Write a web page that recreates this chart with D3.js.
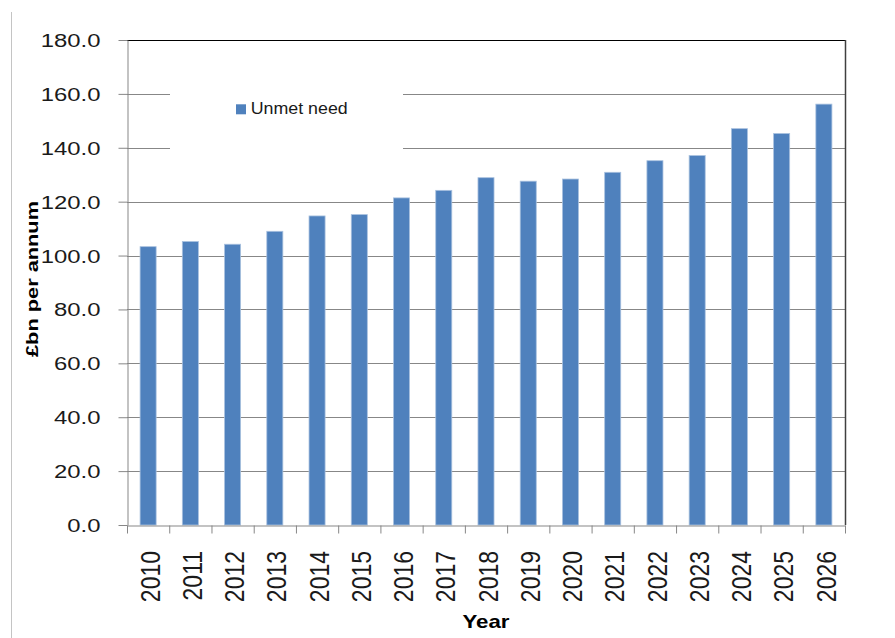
<!DOCTYPE html>
<html>
<head>
<meta charset="utf-8">
<script src="https://cdn.jsdelivr.net/npm/d3@7"></script>
<style>
  html, body { margin: 0; padding: 0; background: #fff; }
  svg { display: block; }
</style>
</head>
<body>
<script>
// ---- data ----
const years = ["2010","2011","2012","2013","2014","2015","2016","2017","2018",
               "2019","2020","2021","2022","2023","2024","2025","2026"];
const unmetNeed = [103.3,105.2,104.2,109.0,114.7,115.2,121.4,124.2,128.9,
                   127.6,128.4,130.9,135.2,137.1,147.1,145.3,156.2];
const yTicks = [0,20,40,60,80,100,120,140,160,180];
const seriesName = "Unmet need";
const xTitle = "Year";
const yTitle = "£bn per annum";

// ---- layout ----
const W = 895, H = 638;
const L = 127, R = 845, T = 40, B = 525;
const FONT = "'Liberation Sans', Arial, sans-serif";
const GRID = "#878787";
const BAR = "#4F81BD";

const svg = d3.select("body").append("svg").attr("width", W).attr("height", H);

// outer chart frame (left edge only visible)
svg.append("line").attr("x1", 11.5).attr("x2", 11.5).attr("y1", 12).attr("y2", H)
  .attr("stroke", "#c4c4c4").attr("stroke-width", 1);

const x = d3.scaleBand().domain(years).range([L, R]).paddingInner(0.62).paddingOuter(0.31);
const xb = d3.scaleLinear().domain([0, years.length]).range([L, R]);
const y = d3.scaleLinear().domain([0, 180]).range([B, T]);

// gridlines
svg.append("g").selectAll("line").data(yTicks.filter(d => d > 0 && d < 180)).join("line")
  .attr("x1", L).attr("x2", R)
  .attr("y1", d => Math.round(y(d)) + 0.5).attr("y2", d => Math.round(y(d)) + 0.5)
  .attr("stroke", GRID).attr("stroke-width", 1);

// top border of plot
svg.append("line").attr("x1", L).attr("x2", R + 1)
  .attr("y1", Math.round(y(180)) + 0.5).attr("y2", Math.round(y(180)) + 0.5)
  .attr("stroke", "#000").attr("stroke-width", 1);

// legend background (hides gridlines)
svg.append("rect").attr("x", 170).attr("y", 78).attr("width", 233).attr("height", 84)
  .attr("fill", "#fff");

// bars
svg.append("g").selectAll("rect").data(unmetNeed).join("rect")
  .attr("x", (d, i) => x(years[i]))
  .attr("width", x.bandwidth())
  .attr("y", d => y(d))
  .attr("height", d => y(0) - y(d))
  .attr("fill", BAR)
  .attr("stroke", "#a9c1df")
  .attr("stroke-width", 0.8);

// right border of plot
svg.append("line").attr("x1", R + 0.5).attr("x2", R + 0.5).attr("y1", T).attr("y2", B)
  .attr("stroke", "#404040").attr("stroke-width", 1.5);

// y axis
const gy = svg.append("g").attr("transform", `translate(${L + 0.5},0)`)
  .call(d3.axisLeft(y).tickValues(yTicks).tickSize(9).tickSizeOuter(0).tickFormat(d3.format(".1f")));
gy.select(".domain").attr("stroke", GRID);
gy.selectAll(".tick line").attr("stroke", GRID);
gy.selectAll(".tick text")
  .attr("x", 0).attr("dy", "0.35em")
  .attr("transform", "translate(-27,0) scale(1.29,1)")
  .attr("font-family", FONT).attr("font-size", 18.5).attr("fill", "#1a1a1a")
  .attr("text-anchor", "end");

// x axis (ticks at category boundaries)
const gx = svg.append("g").attr("transform", `translate(0,${B + 0.5})`)
  .call(d3.axisBottom(xb).tickValues(d3.range(years.length + 1)).tickSize(8).tickSizeOuter(0).tickFormat(""));
gx.select(".domain").attr("stroke", GRID);
gx.selectAll(".tick line").attr("stroke", GRID);

// x labels
svg.append("g").selectAll("text").data(years).join("text")
  .attr("transform", d => `translate(${x(d) + x.bandwidth() / 2 + 2},551) scale(1.2,1) rotate(-90)`)
  .attr("text-anchor", "end").attr("dy", "0.35em")
  .attr("font-family", FONT).attr("font-size", 23).attr("fill", "#1a1a1a")
  .text(d => d);

// axis titles
svg.append("text").attr("x", 486).attr("y", 628).attr("text-anchor", "middle")
  .attr("font-family", FONT).attr("font-weight", "bold").attr("font-size", 18.6)
  .attr("textLength", 47).attr("lengthAdjust", "spacingAndGlyphs")
  .attr("fill", "#000").text(xTitle);

svg.append("text").attr("transform", "translate(38,279) rotate(-90)").attr("text-anchor", "middle")
  .attr("font-family", FONT).attr("font-weight", "bold").attr("font-size", 17)
  .attr("textLength", 156).attr("lengthAdjust", "spacingAndGlyphs")
  .attr("fill", "#000").text(yTitle);

// legend
const lg = svg.append("g");
lg.append("rect").attr("x", 236).attr("y", 104.3).attr("width", 10).attr("height", 10).attr("fill", BAR);
lg.append("text").attr("x", 250.7).attr("y", 114.3)
  .attr("font-family", FONT).attr("font-size", 16.5)
  .attr("textLength", 97).attr("lengthAdjust", "spacingAndGlyphs")
  .attr("fill", "#1a1a1a").text(seriesName);
</script>
</body>
</html>
